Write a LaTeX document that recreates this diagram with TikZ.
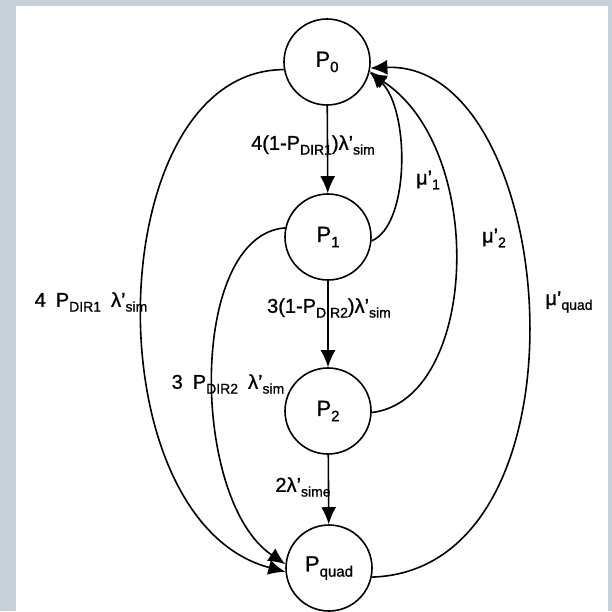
\documentclass[tikz,border=0pt]{standalone}
\usepackage{fontspec}
\setmainfont{Liberation Sans}[FakeBold=1]
\usetikzlibrary{arrows.meta}
\definecolor{frame}{HTML}{C5D0D7}
% subscripts for state names and rate labels
\newcommand\nsub[1]{\raisebox{-0.45ex}{\fontsize{15}{15}\selectfont #1}}
\newcommand\lsub[1]{\raisebox{-0.45ex}{\fontsize{14}{14}\selectfont #1}}
\newcommand\pr{\textquoteright}
\newcommand\gap{\hspace{0.5em}}
\begin{document}
\begin{tikzpicture}[x=1pt,y=-1pt,
  state/.style={draw,circle,line width=1.6pt,minimum size=86pt,inner sep=0pt,
    font=\fontsize{22}{22}\selectfont},
  rate/.style={font=\fontsize{20}{20}\selectfont,inner sep=0pt},
  trans/.style={line width=1.6pt,-{Latex[length=17pt,width=15pt]}}]
  % frame and page
  \fill[frame] (0,0) rectangle (612,611);
  \fill[white] (16,6) rectangle (608,611);
  \useasboundingbox (0,0) rectangle (612,611);
  % states
  \node[state] (p0) at (327,62)  {P\nsub{0}};
  \node[state] (p1) at (328,237) {P\nsub{1}};
  \node[state] (p2) at (328,411) {P\nsub{2}};
  \node[state] (pq) at (329,568) {P\nsub{quad}};
  % downward chain
  \draw[trans] (p0) -- (p1);
  \draw[trans] (p1) -- (p2);
  \draw[trans] (p2) -- (pq);
  % direct transitions to the quad state
  \draw[trans] (p0.190) .. controls (100,70) and (90,520) .. (pq.185);
  \draw[trans] (p1.168) .. controls (188,235) and (190,500) .. (pq.175);
  % repairs back to the top state
  \draw[trans] (p1.-5) .. controls (410,225) and (410,110) .. (p0.-12);
  \draw[trans] (p2.-2) .. controls (478,400) and (488,150) .. (p0.-14);
  \draw[trans] (pq.-12) .. controls (600,570) and (560,60) .. (p0.-8);
  % rate labels
  \node[rate] (l01) at (313,145) {4(1-P\lsub{DIR1})λ\pr\lsub{sim}};
  \node[rate] (l12) at (329,308) {3(1-P\lsub{DIR2})λ\pr\lsub{sim}};
  \node[rate] (l2q) at (303,487) {2λ\pr\lsub{sime}};
  \node[rate] (l0q) at (91,302)  {4\gap P\lsub{DIR1}\gap λ\pr\lsub{sim}};
  \node[rate] (l1q) at (228,384) {3\gap P\lsub{DIR2}\gap λ\pr\lsub{sim}};
  \node[rate] (m1)  at (428,180) {μ\pr\lsub{1}};
  \node[rate] (m2)  at (494,238) {μ\pr\lsub{2}};
  \node[rate] (mq)  at (569,302) {μ\pr\lsub{quad}};
\end{tikzpicture}
\end{document}
